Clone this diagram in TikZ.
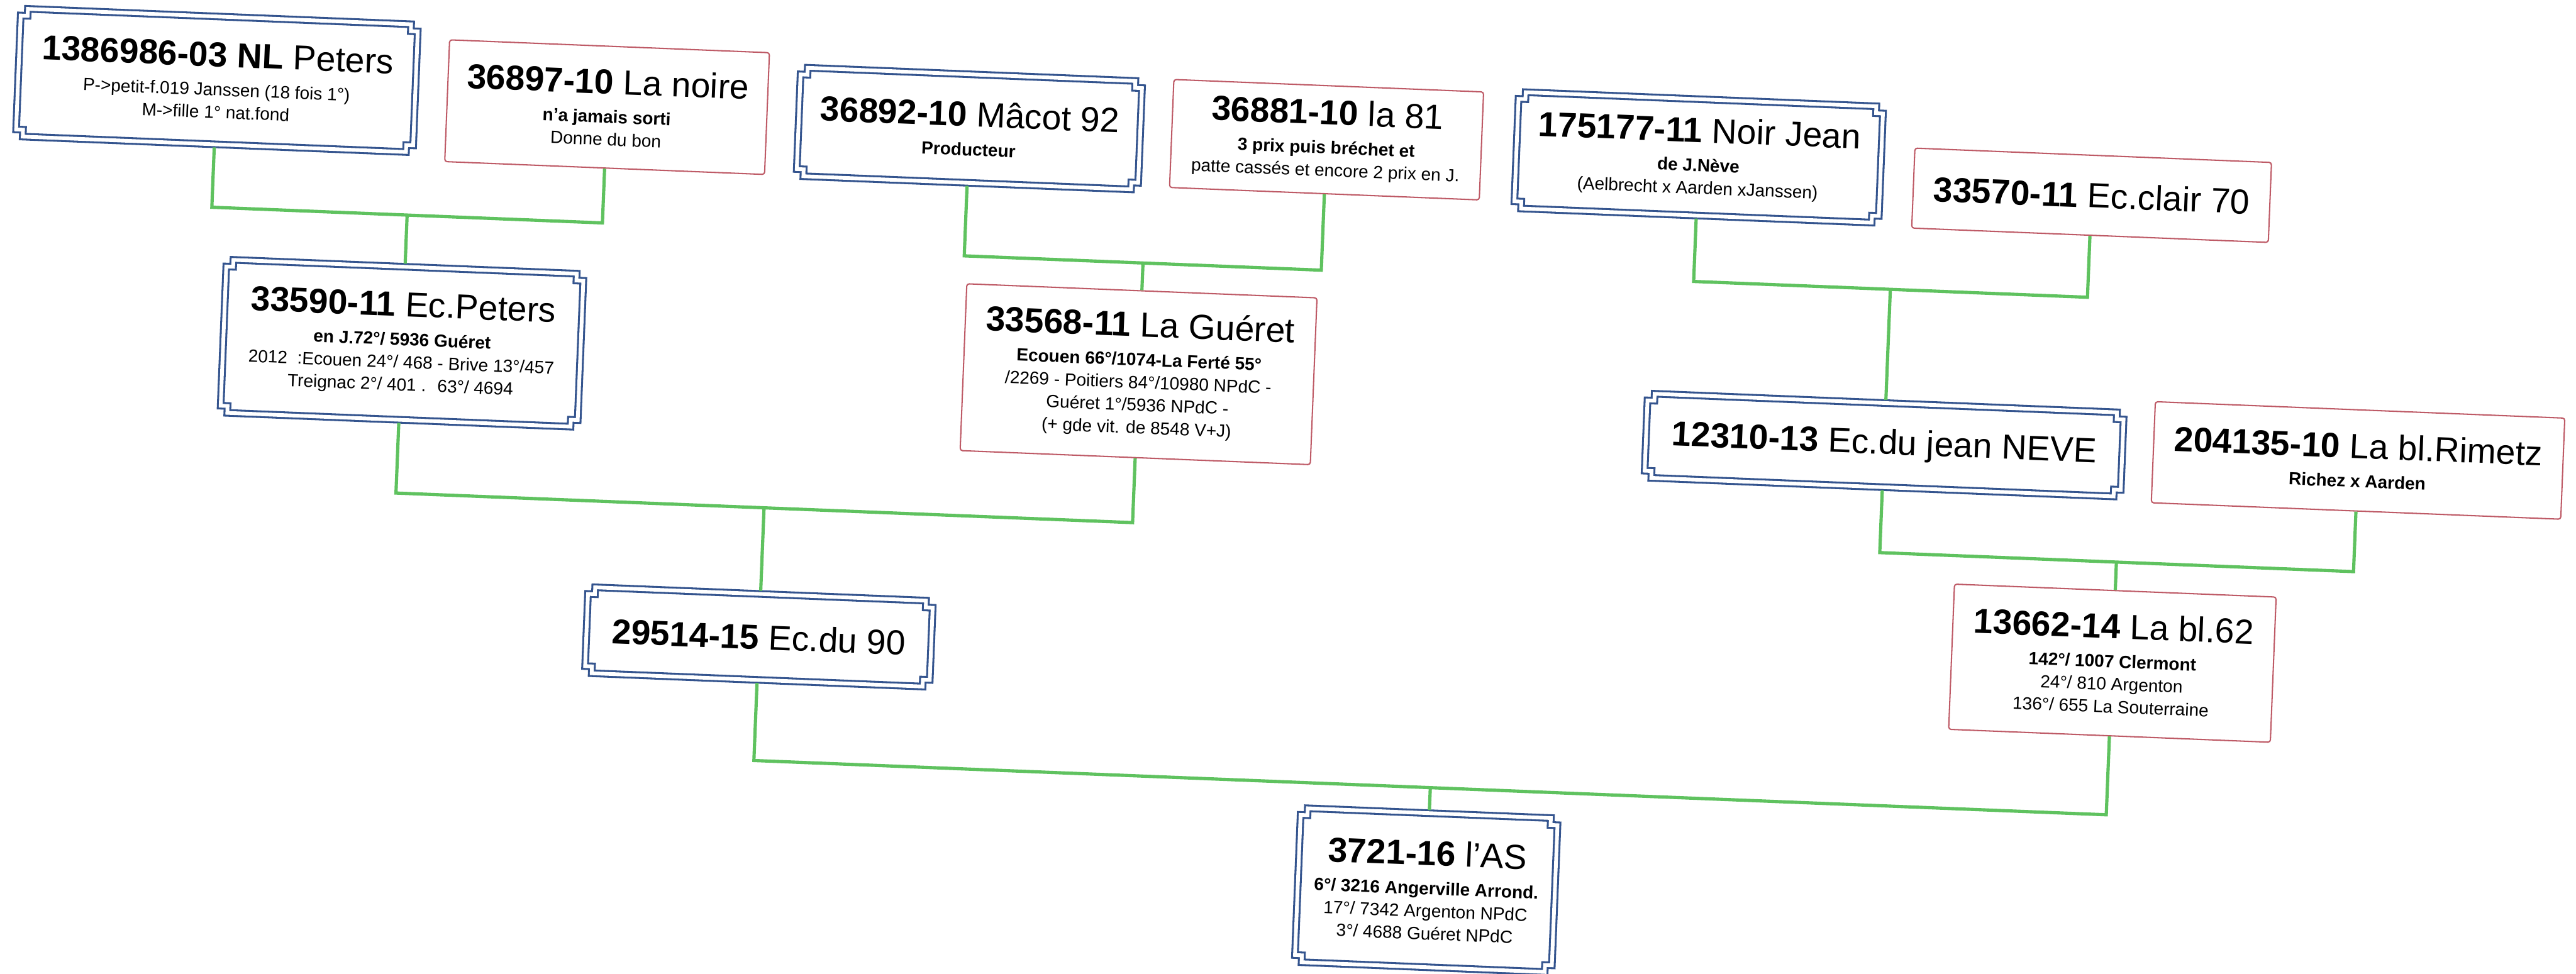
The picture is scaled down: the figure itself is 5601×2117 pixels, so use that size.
\documentclass[tikz,border=0pt]{standalone}
\usepackage{fontspec}
\setmainfont{Liberation Sans}
\usetikzlibrary{calc}
\definecolor{bluec}{HTML}{34548E}
\definecolor{redc}{HTML}{BE5A66}
\definecolor{greenc}{HTML}{5FC25F}
\newcommand\subf{\fontsize{10.9}{14}\selectfont}
\newcommand\ttl[1]{{\fontsize{21.5}{24}\selectfont #1}}
\tikzset{
  conn/.style={draw=greenc, line width=2pt},
  bframe/.style={draw=bluec, line width=1.2pt, double=white, double distance=2.3pt},
  rbox/.style={draw=redc, line width=0.8pt, rounded corners=1.5pt, fill=white, align=center, inner sep=0pt, font=\subf},
  btext/.style={align=center, inner sep=0pt, font=\subf},
}
% name, x, y, w, h, text
\newcommand\bluenode[6]{%
  \pgfmathsetmacro\xa{-#4/2+6}\pgfmathsetmacro\xb{#4/2-6}%
  \pgfmathsetmacro\ya{-#5/2+6}\pgfmathsetmacro\yb{#5/2-6}%
  \pgfmathsetmacro\xan{\xa+15}\pgfmathsetmacro\xbn{\xb-15}%
  \pgfmathsetmacro\yan{\ya+15}\pgfmathsetmacro\ybn{\yb-15}%
  \begin{scope}[shift={(#2,#3)}]
    \node[btext, minimum width=#4*0.1mm, minimum height=#5*0.1mm] (#1) at (0,0) {#6};
    \draw[bframe] (\xa,\yan) -- (\xan,\yan) -- (\xan,\ya) -- (\xbn,\ya) -- (\xbn,\yan) -- (\xb,\yan)
      -- (\xb,\ybn) -- (\xbn,\ybn) -- (\xbn,\yb) -- (\xan,\yb) -- (\xan,\ybn) -- (\xa,\ybn) -- cycle;
  \end{scope}}
\begin{document}
\begin{tikzpicture}[x=0.1mm, y=-0.1mm]
\fill[white] (0,0) rectangle (5601,2117);
\useasboundingbox (0,0) rectangle (5601,2117);
\begin{scope}[rotate around={-2.3:(2800,1058)}, transform shape]
  % generation 4 (top)
  \bluenode{N1}{438}{269}{876}{290}{\ttl{\textbf{1386986-03 NL} Peters}\\[4pt]P->petit-f.019 Janssen (18 fois 1°)\\M->fille 1° nat.fond}
  \node[rbox, minimum width=696*0.1mm, minimum height=265*0.1mm] (N2) at (1288,293)
    {\ttl{\textbf{36897-10} La noire}\\[4pt]\textbf{n'a jamais sorti}\\Donne du bon};
  \bluenode{N3}{2077}{308}{755}{248}{\ttl{\textbf{36892-10} Mâcot 92}\\[4pt]\textbf{Producteur}}
  \node[rbox, minimum width=674*0.1mm, minimum height=235*0.1mm] (N4) at (2854,301)
    {\ttl{\textbf{36881-10} la 81}\\[4pt]\textbf{3 prix puis bréchet et}\\patte cassés et encore 2 prix en J.};
  \bluenode{N5}{3664}{307}{805}{265}{\ttl{\textbf{175177-11} Noir Jean}\\[4pt]\textbf{de J.Nève}\\(Aelbrecht x Aarden xJanssen)}
  \node[rbox, minimum width=776*0.1mm, minimum height=174*0.1mm] (N6) at (4521,355)
    {\ttl{\textbf{33570-11} Ec.clair 70}};
  % generation 3
  \bluenode{N7}{863}{824}{789}{345}{\ttl{\textbf{33590-11} Ec.Peters}\\[4pt]\textbf{en J.72°/ 5936 Guéret}\\2012 \ :Ecouen 24°/ 468 - Brive 13°/457\\Treignac 2°/ 401 . \ 63°/ 4694}
  \node[rbox, minimum width=762*0.1mm, minimum height=363*0.1mm] (N8) at (2466,827)
    {\ttl{\textbf{33568-11} La Guéret}\\[4pt]\textbf{Ecouen 66°/1074-La Ferté 55°}\\/2269 - Poitiers 84°/10980 NPdC -\\Guéret 1°/5936 NPdC -\\(+ gde vit. de 8548 V+J)};
  \bluenode{N9}{4092}{916}{1048}{195}{\ttl{\textbf{12310-13} Ec.du jean NEVE}}
  \node[rbox, minimum width=891*0.1mm, minimum height=220*0.1mm] (N10) at (5123,908)
    {\ttl{\textbf{204135-10} La bl.Rimetz}\\[4pt]\textbf{Richez x Aarden}};
  % generation 2
  \bluenode{N11}{1664}{1431}{762}{199}{\ttl{\textbf{29514-15} Ec.du 90}}
  \node[rbox, minimum width=700*0.1mm, minimum height=316*0.1mm] (N12) at (4607,1370)
    {\ttl{\textbf{13662-14} La bl.62}\\[4pt]\textbf{142°/ 1007 Clermont}\\24°/ 810 Argenton\\136°/ 655 La Souterraine};
  % generation 1
  \bluenode{N13}{3136}{1923}{571}{347}{\ttl{\textbf{3721-16} l'AS}\\[4pt]\textbf{6°/ 3216 Angerville Arrond.}\\17°/ 7342 Argenton NPdC\\3°/ 4688 Guéret NPdC}
  % connector levels
  \coordinate (L1) at (0,545);
  \coordinate (L2) at (0,585);
  \coordinate (L3) at (0,577);
  \coordinate (L4) at (0,1150);
  \coordinate (L5) at (0,1150);
  \coordinate (L6) at (0,1700);
  \draw[conn] (N1.south) -- (N1.south |- L1) -| (N2.south);
  \draw[conn] (N7.north) -- (N7.north |- L1);
  \draw[conn] (N3.south) -- (N3.south |- L2) -| (N4.south);
  \draw[conn] (N8.north) -- (N8.north |- L2);
  \draw[conn] (N5.south) -- (N5.south |- L3) -| (N6.south);
  \draw[conn] (N9.north) -- (N9.north |- L3);
  \draw[conn] (N7.south) -- (N7.south |- L4) -| (N8.south);
  \draw[conn] (N11.north) -- (N11.north |- L4);
  \draw[conn] (N9.south) -- (N9.south |- L5) -| (N10.south);
  \draw[conn] (N12.north) -- (N12.north |- L5);
  \draw[conn] (N11.south) -- (N11.south |- L6) -| (N12.south);
  \draw[conn] (N13.north) -- (N13.north |- L6);
\end{scope}
\end{tikzpicture}
\end{document}
